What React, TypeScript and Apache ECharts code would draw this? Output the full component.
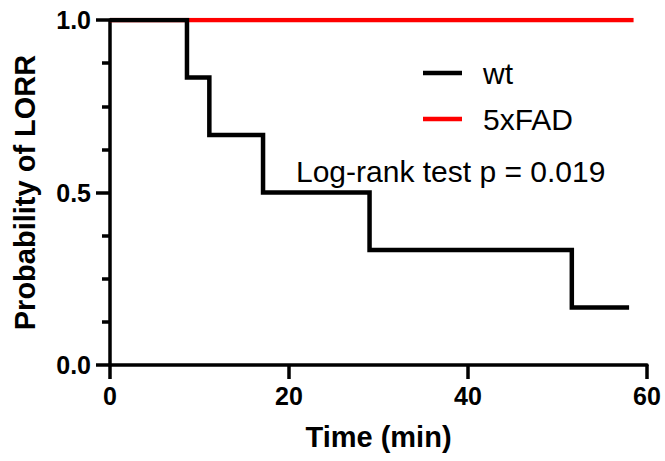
import React, { useEffect, useRef } from "react";
import * as echarts from "echarts";

const wtTimes = [0, 8.6, 11.1, 17.1, 29.0, 51.6, 58.0];
const wtProb = [1.0, 0.833, 0.667, 0.5, 0.333, 0.167, 0.167];
const fadTimes = [0, 58.5];
const fadProb = [1.0, 1.0];
const seriesNames = ["wt", "5xFAD"];
const xTicks = [0, 20, 40, 60];
const yTicks = [0, 0.5, 1.0];
const annotation = "Log-rank test p = 0.019";

const FONT = "'Liberation Sans', Arial, Helvetica, sans-serif";

export default function App() {
  const ref = useRef<HTMLDivElement>(null);
  useEffect(() => {
    if (!ref.current) return;
    const chart = echarts.init(ref.current, undefined, { renderer: "svg" });
    const wtData = wtTimes.map((t, i) => [t, wtProb[i]]);
    const fadData = fadTimes.map((t, i) => [t, fadProb[i]]);
    chart.setOption({
      animation: false,
      backgroundColor: "#ffffff",
      textStyle: { fontFamily: FONT },
      grid: { left: 110, right: 18, top: 20, bottom: 96, outerBoundsMode: "none" },
      xAxis: {
        type: "value",
        min: xTicks[0],
        max: xTicks[xTicks.length - 1],
        interval: xTicks[1] - xTicks[0],
        name: "Time (min)",
        nameLocation: "middle",
        nameGap: 57,
        nameTextStyle: { fontSize: 29, fontWeight: "bold", color: "#000", fontFamily: FONT },
        axisLine: { show: true, lineStyle: { color: "#000", width: 3.5 } },
        axisTick: { show: true, length: 14, lineStyle: { color: "#000", width: 3.5 } },
        axisLabel: { fontSize: 25, fontWeight: "bold", color: "#000", margin: 18, fontFamily: FONT },
        splitLine: { show: false },
      },
      yAxis: {
        type: "value",
        min: yTicks[0],
        max: yTicks[yTicks.length - 1],
        interval: yTicks[1] - yTicks[0],
        name: "Probability of LORR",
        nameLocation: "middle",
        nameGap: 71,
        nameTextStyle: { fontSize: 29, fontWeight: "bold", color: "#000", fontFamily: FONT },
        axisLine: { show: true, lineStyle: { color: "#000", width: 3.5 } },
        axisTick: { show: true, length: 14, lineStyle: { color: "#000", width: 3.5 } },
        minorTick: { show: true, splitNumber: 4, length: 8, lineStyle: { color: "#000", width: 3.5 } },
        axisLabel: {
          fontSize: 25,
          fontWeight: "bold",
          color: "#000",
          margin: 19,
          fontFamily: FONT,
          formatter: (v: number) => v.toFixed(1),
        },
        splitLine: { show: false },
        minorSplitLine: { show: false },
      },
      legend: {
        data: seriesNames,
        orient: "vertical",
        left: 423,
        top: 58,
        padding: 0,
        itemWidth: 39,
        itemHeight: 4.5,
        itemGap: 16,
        icon: "rect",
        textStyle: { fontSize: 30, color: "#000", fontFamily: FONT, padding: [0, 0, 0, 16] },
      },
      graphic: [
        {
          type: "text",
          left: 296,
          top: 156,
          style: { text: annotation, fontSize: 30, fill: "#000", fontFamily: FONT },
        },
      ],
      series: [
        {
          name: seriesNames[1],
          type: "line",
          data: fadData,
          step: "end",
          symbol: "none",
          z: 2,
          itemStyle: { color: "#ff0000" },
          lineStyle: { color: "#ff0000", width: 4.5, cap: "butt", join: "miter" },
        },
        {
          name: seriesNames[0],
          type: "line",
          data: wtData,
          step: "end",
          symbol: "none",
          z: 3,
          itemStyle: { color: "#000000" },
          lineStyle: { color: "#000000", width: 4.5, cap: "butt", join: "miter" },
        },
      ],
    });
    return () => chart.dispose();
  }, []);
  return (
    <div
      ref={ref}
      style={{ position: "fixed", left: 0, top: 0, width: 665, height: 461 }}
    />
  );
}
